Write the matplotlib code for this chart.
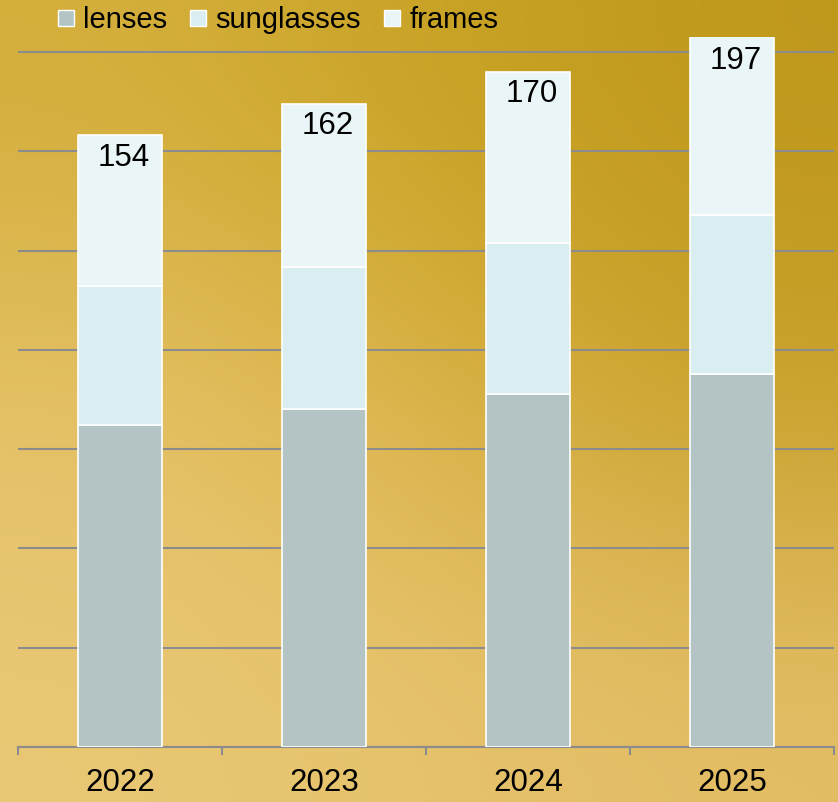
import matplotlib

matplotlib.use("Agg")
import matplotlib.pyplot as plt
import numpy as np
from matplotlib.colors import to_rgb
from matplotlib.lines import Line2D

# ---------------------------------------------------------------------------
# Data
# ---------------------------------------------------------------------------
years = ["2022", "2023", "2024", "2025"]
lenses = [81, 85, 89, 94]
sunglasses = [35, 36, 38, 40]
frames = [38, 41, 43, 63]
totals = [154, 162, 170, 197]

series_names = ["lenses", "sunglasses", "frames"]
series_colors = ["#B4C4C4", "#DAEDF0", "#E9F5F7"]

plt.rcParams["font.family"] = ["Liberation Sans", "DejaVu Sans"]

W, H = 838, 802
fig = plt.figure(figsize=(W / 100, H / 100), dpi=100)

# ---------------------------------------------------------------------------
# Gold gradient background
# ---------------------------------------------------------------------------
bg_grid = [
    ["#D4AF3C", "#C9A323", "#BF991C"],
    ["#E6C36A", "#DDB54A", "#C8A02A"],
    ["#E9C774", "#E7C36E", "#E3BE66"],
]
bg = np.array([[to_rgb(c) for c in row] for row in bg_grid])
bg_ax = fig.add_axes([0, 0, 1, 1], zorder=-10)
bg_ax.imshow(bg, aspect="auto", interpolation="bicubic", extent=[0, 1, 0, 1])
bg_ax.set_axis_off()

# ---------------------------------------------------------------------------
# Plot area
# ---------------------------------------------------------------------------
left, right, bottom, top = 18, 834, 747, 37
ax = fig.add_axes([left / W, 1 - bottom / H, (right - left) / W, (bottom - top) / H])
ax.patch.set_alpha(0)

x = np.arange(len(years))
width = 0.41
base = np.zeros(len(years))
for name, vals, col in zip(series_names, [lenses, sunglasses, frames], series_colors):
    ax.bar(x, vals, width, bottom=base, color=col, edgecolor="white",
           linewidth=1.2, label=name, zorder=3)
    base += np.array(vals)

ymax = 178.8
ax.set_ylim(0, ymax)
ax.set_xlim(-0.5, len(years) - 0.5)

for xi, t in zip(x, totals):
    below_top = -16 if t <= ymax else -17
    ax.annotate(str(t), (xi, min(t, ymax)), xytext=(3, below_top),
                textcoords="offset points", ha="center", va="center",
                fontsize=22.5, color="black", zorder=5)

ax.set_yticks(np.arange(0, 176, 25))
ax.set_yticklabels([])
ax.tick_params(axis="y", length=0)
ax.yaxis.grid(True, color="#8C8C8C", linewidth=1.5, zorder=0)

ax.set_xticks(np.arange(-0.5, len(years), 1.0))
ax.set_xticklabels([])
ax.set_xticks(x, minor=True)
ax.set_xticklabels(years, minor=True, fontsize=22.5)
ax.tick_params(axis="x", which="major", length=6, width=1.5, color="#8C8C8C",
               direction="out")
ax.tick_params(axis="x", which="minor", length=0, pad=15)

for s in ["top", "right", "left"]:
    ax.spines[s].set_visible(False)
ax.spines["bottom"].set_color("#8C8C8C")
ax.spines["bottom"].set_linewidth(1.5)

# ---------------------------------------------------------------------------
# Legend
# ---------------------------------------------------------------------------
handles = [Line2D([], [], marker="s", linestyle="none", markersize=12,
                  markerfacecolor=c, markeredgecolor="white", markeredgewidth=1.0)
           for c in series_colors]
fig.legend(handles, series_names, loc="center left",
           bbox_to_anchor=(57 / W, 1 - 20 / H), ncol=3, frameon=False,
           fontsize=21, handlelength=0.6, handletextpad=0.3,
           columnspacing=0.75, borderpad=0, borderaxespad=0)

fig.savefig("out.png", dpi=100)
